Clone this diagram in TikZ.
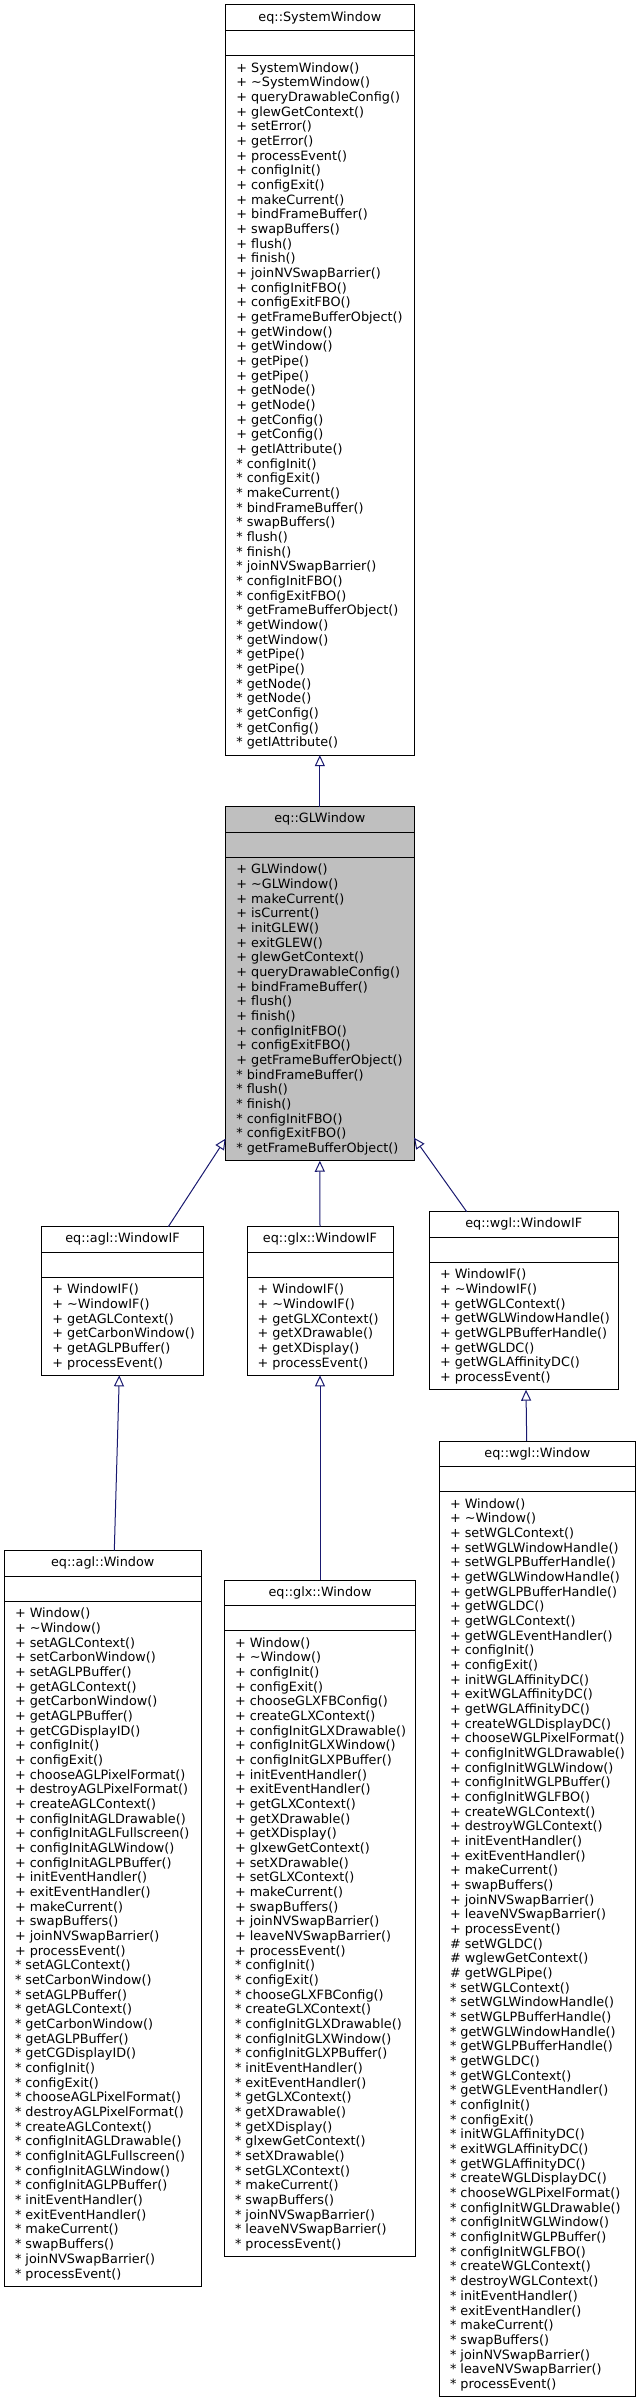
\documentclass[tikz,border=0pt]{standalone}
\usepackage{fontspec}
\newfontfamily\dvs{DejaVu Sans}
\usetikzlibrary{arrows.meta}
\definecolor{edgeblue}{HTML}{191970}
\definecolor{glgray}{HTML}{BFBFBF}
\newcommand\classbox[8]{%
  \node[cls, fill=#6, minimum width=#4pt, minimum height=#5pt] (#1) at (#2,#3) {};
  \draw[sepl] ([yshift=-25.3pt]#1.north west) -- ([yshift=-25.3pt]#1.north east);
  \draw[sepl] ([yshift=-50.8pt]#1.north west) -- ([yshift=-50.8pt]#1.north east);
  \node[ttl] (#1-t) at ([yshift=-12.65pt]#1.north) {#7};
  \node[mth] (#1-m) at ([xshift=10.5pt,yshift=-57.2pt]#1.north west) {#8};
}
\newcommand\tl{\textasciitilde}
\begin{document}
\begin{tikzpicture}[x=1pt,y=-1pt,
  cls/.style={draw=black, line width=1pt, inner sep=0pt, outer sep=0pt, anchor=north west},
  ttl/.style={font=\dvs\fontsize{12.8}{14.67}\selectfont, inner sep=0pt, text height=9.7pt, text depth=2.7pt, anchor=center},
  mth/.style={font=\dvs\fontsize{12.8}{14.67}\selectfont, inner sep=0pt, align=left, anchor=north west},
  sepl/.style={draw=black, line width=1pt},
  inh/.style={draw=edgeblue, line width=1pt, -{Triangle[open, length=11pt, width=10pt]}}
]
\useasboundingbox[fill=white] (0,0) rectangle (640,2403);

\classbox{sw}{225.7}{5}{188.3}{750.12}{white}{eq::SystemWindow}{%
+ SystemWindow()\\
+ \tl SystemWindow()\\
+ queryDrawableConfig()\\
+ glewGetContext()\\
+ setError()\\
+ getError()\\
+ processEvent()\\
+ configInit()\\
+ configExit()\\
+ makeCurrent()\\
+ bindFrameBuffer()\\
+ swapBuffers()\\
+ flush()\\
+ finish()\\
+ joinNVSwapBarrier()\\
+ configInitFBO()\\
+ configExitFBO()\\
+ getFrameBufferObject()\\
+ getWindow()\\
+ getWindow()\\
+ getPipe()\\
+ getPipe()\\
+ getNode()\\
+ getNode()\\
+ getConfig()\\
+ getConfig()\\
+ getIAttribute()\\
* configInit()\\
* configExit()\\
* makeCurrent()\\
* bindFrameBuffer()\\
* swapBuffers()\\
* flush()\\
* finish()\\
* joinNVSwapBarrier()\\
* configInitFBO()\\
* configExitFBO()\\
* getFrameBufferObject()\\
* getWindow()\\
* getWindow()\\
* getPipe()\\
* getPipe()\\
* getNode()\\
* getNode()\\
* getConfig()\\
* getConfig()\\
* getIAttribute()}

\classbox{glw}{225.7}{806.7}{188.3}{354.03}{glgray}{eq::GLWindow}{%
+ GLWindow()\\
+ \tl GLWindow()\\
+ makeCurrent()\\
+ isCurrent()\\
+ initGLEW()\\
+ exitGLEW()\\
+ glewGetContext()\\
+ queryDrawableConfig()\\
+ bindFrameBuffer()\\
+ flush()\\
+ finish()\\
+ configInitFBO()\\
+ configExitFBO()\\
+ getFrameBufferObject()\\
* bindFrameBuffer()\\
* flush()\\
* finish()\\
* configInitFBO()\\
* configExitFBO()\\
* getFrameBufferObject()}

\classbox{aglIF}{41.7}{1226.7}{161.6}{148.65}{white}{eq::agl::WindowIF}{%
+ WindowIF()\\
+ \tl WindowIF()\\
+ getAGLContext()\\
+ getCarbonWindow()\\
+ getAGLPBuffer()\\
+ processEvent()}

\classbox{glxIF}{247}{1226.7}{146}{148.65}{white}{eq::glx::WindowIF}{%
+ WindowIF()\\
+ \tl WindowIF()\\
+ getGLXContext()\\
+ getXDrawable()\\
+ getXDisplay()\\
+ processEvent()}

\classbox{wglIF}{429.3}{1211.7}{189}{177.99}{white}{eq::wgl::WindowIF}{%
+ WindowIF()\\
+ \tl WindowIF()\\
+ getWGLContext()\\
+ getWGLWindowHandle()\\
+ getWGLPBufferHandle()\\
+ getWGLDC()\\
+ getWGLAffinityDC()\\
+ processEvent()}

\classbox{aglW}{4.3}{1550.7}{196.7}{735.45}{white}{eq::agl::Window}{%
+ Window()\\
+ \tl Window()\\
+ setAGLContext()\\
+ setCarbonWindow()\\
+ setAGLPBuffer()\\
+ getAGLContext()\\
+ getCarbonWindow()\\
+ getAGLPBuffer()\\
+ getCGDisplayID()\\
+ configInit()\\
+ configExit()\\
+ chooseAGLPixelFormat()\\
+ destroyAGLPixelFormat()\\
+ createAGLContext()\\
+ configInitAGLDrawable()\\
+ configInitAGLFullscreen()\\
+ configInitAGLWindow()\\
+ configInitAGLPBuffer()\\
+ initEventHandler()\\
+ exitEventHandler()\\
+ makeCurrent()\\
+ swapBuffers()\\
+ joinNVSwapBarrier()\\
+ processEvent()\\
* setAGLContext()\\
* setCarbonWindow()\\
* setAGLPBuffer()\\
* getAGLContext()\\
* getCarbonWindow()\\
* getAGLPBuffer()\\
* getCGDisplayID()\\
* configInit()\\
* configExit()\\
* chooseAGLPixelFormat()\\
* destroyAGLPixelFormat()\\
* createAGLContext()\\
* configInitAGLDrawable()\\
* configInitAGLFullscreen()\\
* configInitAGLWindow()\\
* configInitAGLPBuffer()\\
* initEventHandler()\\
* exitEventHandler()\\
* makeCurrent()\\
* swapBuffers()\\
* joinNVSwapBarrier()\\
* processEvent()}

\classbox{glxW}{224.3}{1580}{191.4}{676.77}{white}{eq::glx::Window}{%
+ Window()\\
+ \tl Window()\\
+ configInit()\\
+ configExit()\\
+ chooseGLXFBConfig()\\
+ createGLXContext()\\
+ configInitGLXDrawable()\\
+ configInitGLXWindow()\\
+ configInitGLXPBuffer()\\
+ initEventHandler()\\
+ exitEventHandler()\\
+ getGLXContext()\\
+ getXDrawable()\\
+ getXDisplay()\\
+ glxewGetContext()\\
+ setXDrawable()\\
+ setGLXContext()\\
+ makeCurrent()\\
+ swapBuffers()\\
+ joinNVSwapBarrier()\\
+ leaveNVSwapBarrier()\\
+ processEvent()\\
* configInit()\\
* configExit()\\
* chooseGLXFBConfig()\\
* createGLXContext()\\
* configInitGLXDrawable()\\
* configInitGLXWindow()\\
* configInitGLXPBuffer()\\
* initEventHandler()\\
* exitEventHandler()\\
* getGLXContext()\\
* getXDrawable()\\
* getXDisplay()\\
* glxewGetContext()\\
* setXDrawable()\\
* setGLXContext()\\
* makeCurrent()\\
* swapBuffers()\\
* joinNVSwapBarrier()\\
* leaveNVSwapBarrier()\\
* processEvent()}

\classbox{wglW}{439.3}{1441}{196.2}{955.5}{white}{eq::wgl::Window}{%
+ Window()\\
+ \tl Window()\\
+ setWGLContext()\\
+ setWGLWindowHandle()\\
+ setWGLPBufferHandle()\\
+ getWGLWindowHandle()\\
+ getWGLPBufferHandle()\\
+ getWGLDC()\\
+ getWGLContext()\\
+ getWGLEventHandler()\\
+ configInit()\\
+ configExit()\\
+ initWGLAffinityDC()\\
+ exitWGLAffinityDC()\\
+ getWGLAffinityDC()\\
+ createWGLDisplayDC()\\
+ chooseWGLPixelFormat()\\
+ configInitWGLDrawable()\\
+ configInitWGLWindow()\\
+ configInitWGLPBuffer()\\
+ configInitWGLFBO()\\
+ createWGLContext()\\
+ destroyWGLContext()\\
+ initEventHandler()\\
+ exitEventHandler()\\
+ makeCurrent()\\
+ swapBuffers()\\
+ joinNVSwapBarrier()\\
+ leaveNVSwapBarrier()\\
+ processEvent()\\
\# setWGLDC()\\
\# wglewGetContext()\\
\# getWGLPipe()\\
* setWGLContext()\\
* setWGLWindowHandle()\\
* setWGLPBufferHandle()\\
* getWGLWindowHandle()\\
* getWGLPBufferHandle()\\
* getWGLDC()\\
* getWGLContext()\\
* getWGLEventHandler()\\
* configInit()\\
* configExit()\\
* initWGLAffinityDC()\\
* exitWGLAffinityDC()\\
* getWGLAffinityDC()\\
* createWGLDisplayDC()\\
* chooseWGLPixelFormat()\\
* configInitWGLDrawable()\\
* configInitWGLWindow()\\
* configInitWGLPBuffer()\\
* configInitWGLFBO()\\
* createWGLContext()\\
* destroyWGLContext()\\
* initEventHandler()\\
* exitEventHandler()\\
* makeCurrent()\\
* swapBuffers()\\
* joinNVSwapBarrier()\\
* leaveNVSwapBarrier()\\
* processEvent()}

% inheritance connectors (child -> parent)
\draw[inh] (glw.north) -- (sw.south);
\draw[inh] ([xshift=126.6pt]aglIF.north west) -- ([yshift=22.2pt]glw.south west);
\draw[inh] (glxIF.north) -- (glw.south);
\draw[inh] ([xshift=37.4pt]wglIF.north west) -- ([yshift=23pt]glw.south east);
\draw[inh] ([xshift=110pt]aglW.north west) -- ([xshift=77.6pt]aglIF.south west);
\draw[inh] (glxW.north) -- (glxIF.south);
\draw[inh] ([xshift=87.4pt]wglW.north west) -- ([xshift=96.7pt]wglIF.south west);
\end{tikzpicture}
\end{document}
